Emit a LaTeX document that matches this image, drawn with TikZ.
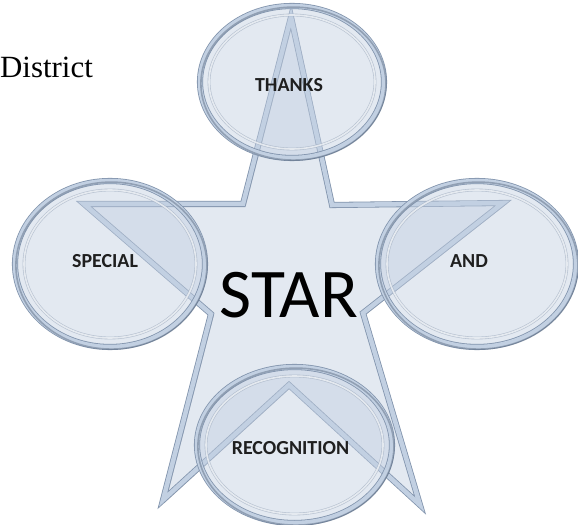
\documentclass[tikz,border=0pt]{standalone}
\usepackage{fontspec}
\setmainfont{Liberation Serif}
\newfontfamily\calibri{Carlito}
\usetikzlibrary{shapes.geometric}
\definecolor{glassfill}{HTML}{C3D0E2}
\definecolor{rimlight}{HTML}{C2D0E2}
\definecolor{rimdark}{HTML}{8294AD}
\definecolor{shade}{HTML}{56667C}
\begin{document}
\begin{tikzpicture}[x=1bp,y=-1bp,
  glass/.style={fill=glassfill, fill opacity=0.45},
  rim/.style={draw=rimdark, line width=0.8bp, double=rimlight, double distance=4.5bp},
  shadowline/.style={draw=shade, line width=1.6bp, draw opacity=0.45},
  bubble/.style={ellipse, glass, rim, inner sep=0pt},
  innerrim/.style={draw=rimdark!70, line width=0.6bp, double=white!85!rimlight, double distance=1.6bp, draw opacity=0.75},
  lbl/.style={font=\calibri\bfseries\fontsize{20}{20}\selectfont, text=black!88, anchor=base, inner sep=0pt}]
\useasboundingbox (0,0) rectangle (578,525);
\fill[white] (0,0) rectangle (578,525);
% star shadow and star
\path[shadowline, shift={(2.2,1.2)}] (291,17) -- (332,205) -- (503,203) -- (363,313) -- (420,505)
  -- (289,385) -- (163,500) -- (211,314) -- (84,204) -- (243,204) -- cycle;
\path[glass, rim] (291,17) -- (332,205) -- (503,203) -- (363,313) -- (420,505)
  -- (289,385) -- (163,500) -- (211,314) -- (84,204) -- (243,204) -- cycle;
% bubbles
\node[bubble, minimum width=184bp, minimum height=152bp] (thanksring) at (292,82) {};
\node[bubble, minimum width=190bp, minimum height=166bp] (specialring) at (110,264) {};
\node[bubble, minimum width=198bp, minimum height=166bp] (andring) at (477,264) {};
\node[bubble, minimum width=195bp, minimum height=156bp] (recogring) at (294.5,445) {};
\draw[shadowline] ([shift={(1.4,1.6)}]thanksring.center) ellipse [x radius=92.5, y radius=76.5];
\draw[shadowline] ([shift={(1.4,1.6)}]specialring.center) ellipse [x radius=95.5, y radius=83.5];
\draw[shadowline] ([shift={(1.4,1.6)}]andring.center) ellipse [x radius=99.5, y radius=83.5];
\draw[shadowline] ([shift={(1.4,1.6)}]recogring.center) ellipse [x radius=98, y radius=78.5];
\draw[innerrim] (thanksring.center) ellipse [x radius=83, y radius=67];
\draw[innerrim] (specialring.center) ellipse [x radius=86, y radius=74];
\draw[innerrim] (andring.center) ellipse [x radius=90, y radius=74];
\draw[innerrim] (recogring.center) ellipse [x radius=88.5, y radius=69];
% texts
\node[font=\fontsize{31}{31}\selectfont, anchor=base west, inner sep=0pt] (district) at (0,78) {District};
\node[font=\calibri\fontsize{70}{70}\selectfont, anchor=base, inner sep=0pt] (star) at (289,317) {STAR};
\node[lbl] (thanks) at (289,92) {THANKS};
\node[lbl] (special) at (105,267) {SPECIAL};
\node[lbl] (and) at (469,267) {AND};
\node[lbl] (recognition) at (290.5,454) {RECOGNITION};
\end{tikzpicture}
\end{document}
